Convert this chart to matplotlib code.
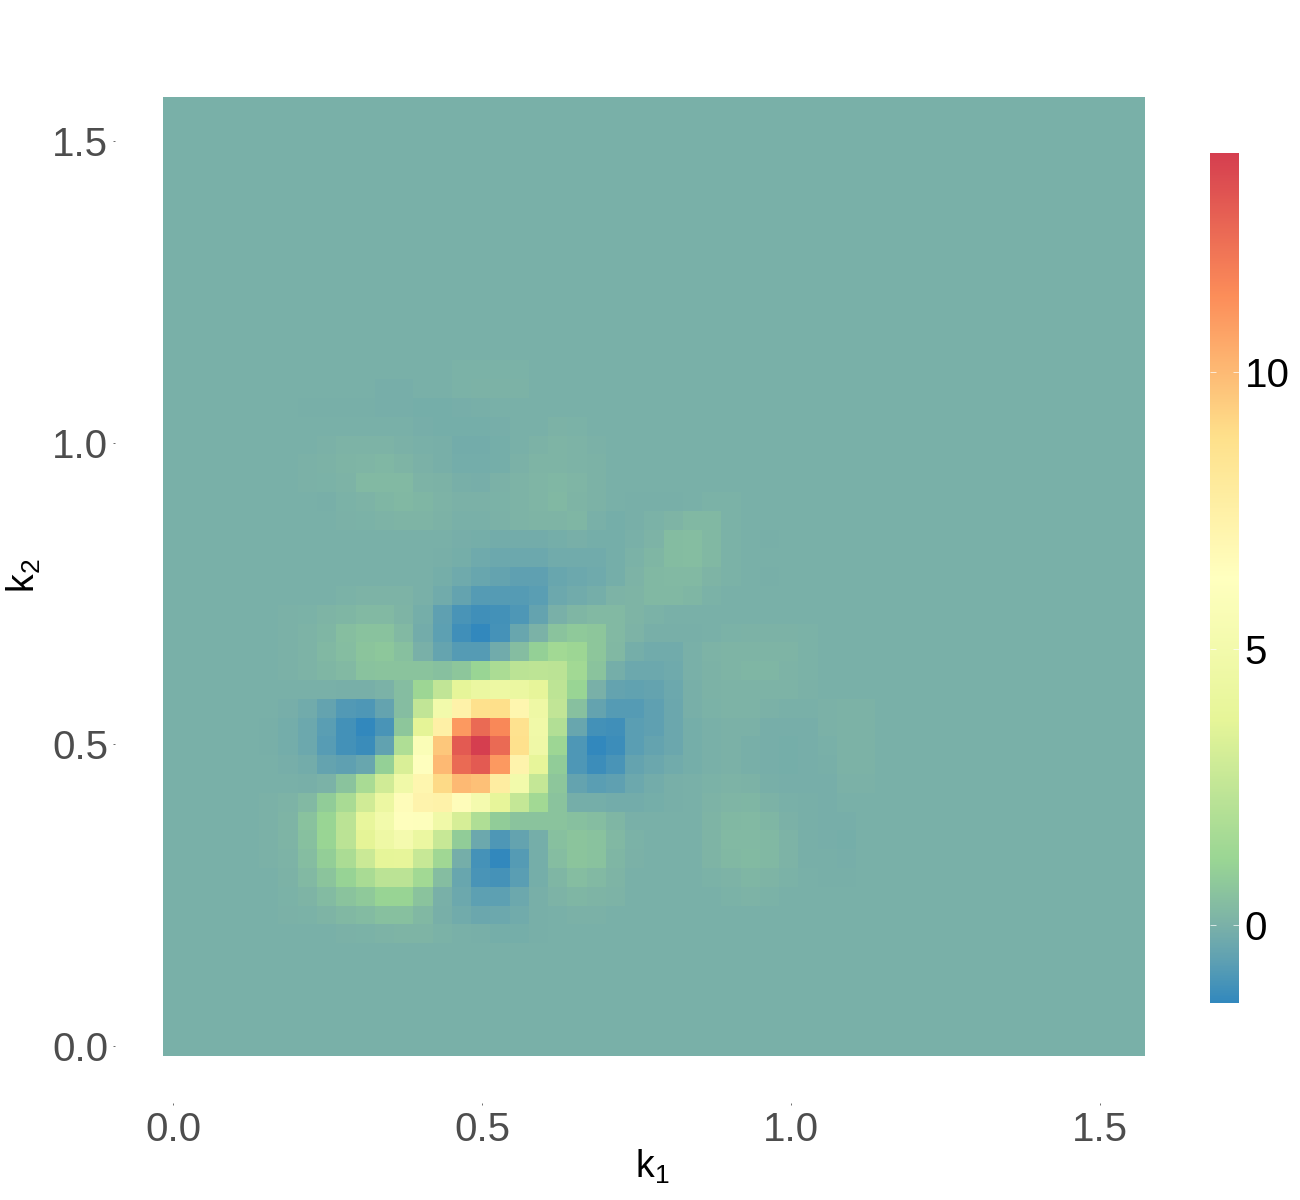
import numpy as np
import matplotlib
matplotlib.use('Agg')
import matplotlib.pyplot as plt
from matplotlib.colors import LinearSegmentedColormap, Normalize

W, H = 1300, 1200
n_cells = 51
first_col = 5

# each row starts at column 5, the rest of the grid is zero
row_06 = [0, 0, 0, 0, .02, .05, .1, .15, .15, .05, 0, -.05, -.1, -.1, -.05]
row_07 = [0, .02, .05, .15, .25, .35, .5, .5, .25, -.05, -.2, -.35, -.3, -.2, -.05, 0, .02, .02]
row_08 = [0, .05, .15, .35, .6, .8, 1.15, 1.15, .6, 0, -.3, -.65, -.65, -.3, -.05, .1, .2, .15, .1, 0, 0, 0, 0, 0, .05, .1, .05]
row_09 = [0, .08, .3, .65, 1.1, 1.7, 2.3, 2.3, 1.5, .4, -.4, -1, -1.05, -.7, -.1, .2, .4, .3, .15, 0, 0, 0, 0, .05, .1, .2, .15, .05, -.02, -.05, -.05]
row_10 = [.02, .12, .4, .95, 1.8, 2.8, 3.8, 3.9, 2.7, 1.4, -.1, -1.05, -1.41, -.8, -.1, .4, .65, .55, .2, .02, 0, 0, 0, .15, .25, .32, .25, .1, -.03, -.05, -.06]
row_11 = [.02, .15, .5, 1.2, 2.3, 3.7, 4.6, 5.2, 4.3, 2.7, .9, -.3, -.9, -.5, -.1, .5, .65, .55, .25, .05, 0, -.02, 0, .15, .3, .3, .25, .1, -.05, -.06, -.1]
row_12 = [.02, .15, .55, 1.2, 2.3, 4, 5, 6.2, 6.1, 4.8, 3.2, 1.9, .9, .6, .6, .6, .5, .4, .2, 0, -.02, 0, 0, .15, .25, .3, .2, .02, -.03, -.06, -.08]
row_13 = [.02, .1, .3, .9, 1.7, 3, 4.4, 6.5, 7.2, 7.3, 6.5, 5.2, 3.9, 2.6, 1.5, .6, -.1, -.1, -.15, -.15, -.1, -.05, 0, .1, .18, .2, .08, 0, -.05, -.06, -.02]
row_14 = [0, -.02, -.05, .05, .6, 1.7, 3, 4.8, 7, 9, 10, 9.8, 7.7, 5, 2.6, .7, -.5, -.7, -.6, -.3, -.15, -.05, 0, .05, .1, .08, -.03, -.06, -.06, -.06, .02, .02]
row_15 = [-.02, -.08, -.15, -.5, -.6, -.4, 1, 3.3, 6.3, 10, 12.5, 13, 11, 7.2, 3.9, .9, -.9, -1.2, -1, -.5, -.35, -.2, -.1, 0, .02, -.03, -.08, -.1, -.08, -.03, .08, .08]
row_16 = [-.03, -.12, -.3, -.75, -1.1, -1.25, -.55, 1.9, 5.8, 9.6, 13, 13.96, 12.5, 8.7, 4.7, 1.3, -.9, -1.41, -1.2, -.7, -.5, -.35, -.1, 0, .02, -.03, -.08, -.1, -.08, -.02, .08, .08]
row_17 = [-.03, -.12, -.3, -.7, -1.1, -1.41, -1, .7, 3.7, 7.5, 11, 12.5, 11.5, 8.6, 4.8, 2, -.4, -1.1, -1.15, -.7, -.6, -.35, -.1, 0, .03, .02, -.07, -.08, -.07, .02, .07, .07]
row_18 = [-.02, -.08, -.2, -.5, -.85, -.9, -.5, .4, 2.5, 5, 7.3, 8.7, 8.8, 7, 4.6, 2.5, .5, -.5, -.8, -.8, -.6, -.35, -.05, .05, .1, .1, .02, 0, 0, .03, .07, .07]
row_19 = [0, -.02, 0, 0, -.05, -.05, .05, .4, 1.3, 2.5, 3.8, 4.3, 4.5, 4.3, 3.9, 2.4, 1.2, 0, -.5, -.55, -.5, -.3, -.05, .08, .12, .12, .12, .1, .03]
row_20 = [0, .03, .1, .2, .3, .55, .6, .6, .6, .5, .7, 1.2, 1.8, 2.3, 2.4, 2.3, 1.5, .6, -.1, -.3, -.3, -.25, -.02, .08, .15, .2, .2, .12, .05]
row_21 = [0, .03, .1, .25, .4, .65, .75, .5, 0, -.45, -.8, -.8, -.2, .4, 1, 1.5, 1.3, .7, .25, -.1, -.2, -.2, 0, .1, .15, .15, .15, .15, .05]
row_22 = [0, .03, .1, .2, .45, .55, .55, .3, -.15, -.65, -1.15, -1.41, -1.05, -.4, .05, .6, .8, .7, .3, .1, -.05, -.05, -.05, 0, .05, .08, .08, .08, .05]
row_23 = [0, .02, .05, .15, .2, .3, .3, .15, -.1, -.6, -1, -1.15, -1.1, -.9, -.5, 0, .2, .3, .3, .15, .05, 0]
row_24 = [0, 0, 0, 0, .05, .1, .1, .1, 0, -.2, -.5, -.8, -.8, -.8, -.7, -.3, -.2, -.1, .1, .15, .25, .25, .2, .05]
row_25 = [0, 0, 0, 0, 0, 0, 0, 0, 0, -.1, -.25, -.4, -.5, -.6, -.6, -.4, -.3, -.25, -.1, .1, .25, .3, .3, .15, .05, -.02, -.03]
row_26 = [0, 0, 0, 0, 0, 0, 0, 0, 0, -.03, -.1, -.25, -.3, -.3, -.3, -.2, -.2, -.2, -.1, .05, .2, .38, .42, .25, .05]
row_27 = [0, 0, 0, 0, 0, 0, 0, 0, 0, 0, -.08, -.1, -.15, -.15, -.15, -.1, -.05, -.1, -.1, 0, .1, .38, .42, .25, .05, 0, -.05]
row_28 = [0, 0, 0, 0, .03, .05, .1, .13, .13, .07, 0, 0, .03, .1, .13, .13, .2, 0, -.1, -.05, .05, .15, .25, .25, .05]
row_29 = [0, 0, 0, -.03, .04, .12, .2, .25, .2, .1, .02, .03, .04, .1, .18, .25, .15, .07, 0, -.05, -.05, -.05, 0, .05, .05]
row_30 = [0, 0, .02, .05, .12, .28, .3, .28, .12, .07, -.03, -.08, .02, .12, .18, .22, .18, .07]
row_31 = [0, 0, .02, .07, .15, .18, .22, .15, .02, -.03, -.12, -.12, -.1, .03, .15, .15, .12, .07]
row_32 = [0, 0, 0, .02, .1, .1, .1, .02, -.02, -.05, -.15, -.15, -.1, 0, .08, .14, .1, .03]
row_33 = [0, 0, 0, 0, 0, 0, 0, -.02, -.08, -.1, -.1, -.1, -.08, 0, 0, .07, .05]
row_34 = [0, 0, -.03, -.03, -.03, -.05, -.08, -.08, -.1, -.1, -.08, -.05]
row_35 = [0, 0, 0, 0, 0, 0, -.08, -.06, 0, 0, .04, .07, .07, .07]
row_36 = [0, 0, 0, 0, 0, 0, 0, 0, 0, 0, .05, .05, .05, .05]

rows = {6: row_06, 7: row_07, 8: row_08, 9: row_09, 10: row_10, 11: row_11,
        12: row_12, 13: row_13, 14: row_14, 15: row_15, 16: row_16, 17: row_17,
        18: row_18, 19: row_19, 20: row_20, 21: row_21, 22: row_22, 23: row_23,
        24: row_24, 25: row_25, 26: row_26, 27: row_27, 28: row_28, 29: row_29,
        30: row_30, 31: row_31, 32: row_32, 33: row_33, 34: row_34, 35: row_35,
        36: row_36}

z = np.zeros((n_cells, n_cells))
for j, vals in rows.items():
    z[j, first_col:first_col + len(vals)] = vals

vmin, vmax = -1.41, 13.96
nodes = [(-1.41, '#3288BD'), (-.7, '#5C9FB3'), (0, '#7BB1A8'), (1.15, '#99D594'),
         (3.71, '#E6F598'), (6.27, '#FFFFBF'), (8.83, '#FEE08B'),
         (11.39, '#FC8D59'), (13.96, '#D53E4F')]
cmap = LinearSegmentedColormap.from_list(
    'spec', [((v - vmin) / (vmax - vmin), c) for v, c in nodes], N=512)

plt.rcParams['font.family'] = ['Liberation Sans', 'DejaVu Sans']
plt.rcParams['mathtext.fontset'] = 'custom'
plt.rcParams['mathtext.rm'] = 'Liberation Sans'
plt.rcParams['mathtext.default'] = 'rm'

fig = plt.figure(figsize=(W / 100, H / 100), dpi=100)


def px_axes(left, top, right, bottom):
    return fig.add_axes([left / W, 1 - bottom / H, (right - left) / W, (bottom - top) / H])


# panel is wider than the raster, ticks sit away from the cells
ax = px_axes(115, 50, 1193, 1103)
im = ax.imshow(z, origin='lower', cmap=cmap, norm=Normalize(vmin, vmax),
               extent=[-0.0162, 1.5715, -0.0166, 1.5715], aspect='auto',
               interpolation='nearest')
ax.set_xlim((115 - 173) / 618, (1193 - 173) / 618)
ax.set_ylim((1046 - 1103) / 603.3, (1046 - 50) / 603.3)
for s in ax.spines.values():
    s.set_visible(False)
ax.set_xticks([0, .5, 1, 1.5], ['0.0', '0.5', '1.0', '1.5'])
ax.set_yticks([0, .5, 1, 1.5], ['0.0', '0.5', '1.0', '1.5'])
ax.tick_params(length=1.5, width=.5, color='#333333', labelcolor='#4D4D4D',
               labelsize=29, pad=3.3)
ax.tick_params(axis='x', pad=4)

fig.text(652 / W, 1 - 1167 / H, '$k_1$', fontsize=27, ha='center', va='center')
fig.text(24 / W, 1 - 576 / H, '$k_2$', fontsize=27, ha='center', va='center', rotation=90)

cax = px_axes(1210, 153, 1239, 1003)
cb = fig.colorbar(im, cax=cax, ticks=[0, 5, 10])
cb.outline.set_visible(False)
cax.tick_params(direction='in', left=True, right=True, length=4, width=.5,
                color='white', labelcolor='black', labelsize=29, pad=4)

fig.savefig('out.png', dpi=100)
